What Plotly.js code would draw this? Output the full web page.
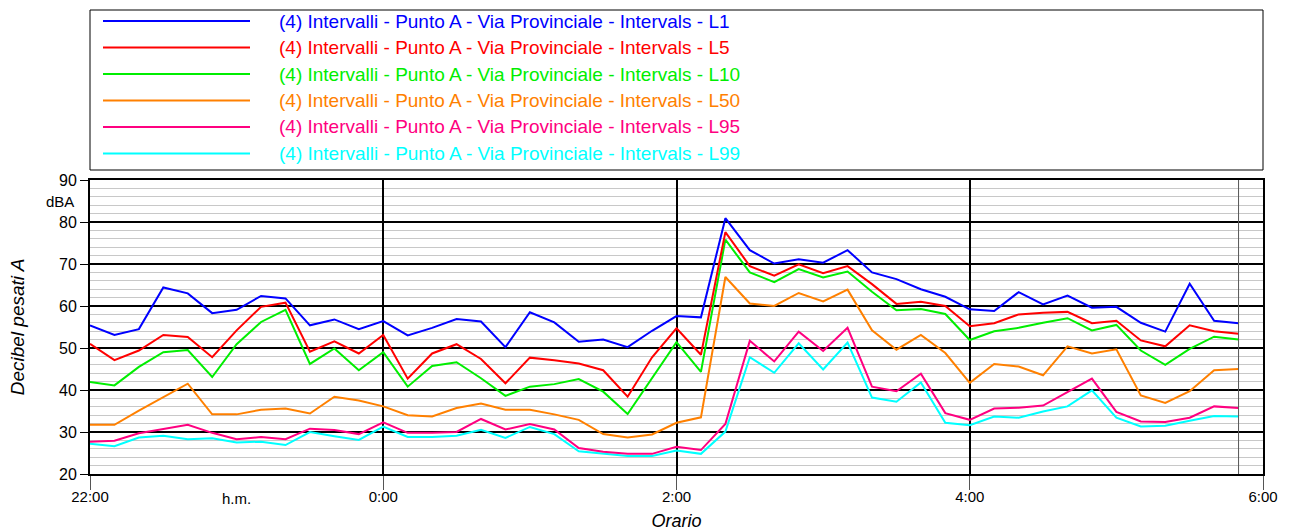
<!DOCTYPE html>
<html>
<head>
<meta charset="utf-8">
<script src="https://cdn.plot.ly/plotly-3.0.1.min.js"></script>
<style>html,body{margin:0;padding:0;background:#fff;}#chart{width:1295px;height:531px;}</style>
</head>
<body>
<div id="chart"></div>
<script>
// ---- data ----
const times = [
  "22:00","22:10","22:20","22:30","22:40","22:50","23:00","23:10","23:20","23:30","23:40","23:50",
  "0:00","0:10","0:20","0:30","0:40","0:50","1:00","1:10","1:20","1:30","1:40","1:50",
  "2:00","2:10","2:20","2:30","2:40","2:50","3:00","3:10","3:20","3:30","3:40","3:50",
  "4:00","4:10","4:20","4:30","4:40","4:50","5:00","5:10","5:20","5:30","5:40","5:50"
];
const seriesNames = [
  "(4) Intervalli - Punto A - Via Provinciale - Intervals - L1",
  "(4) Intervalli - Punto A - Via Provinciale - Intervals - L5",
  "(4) Intervalli - Punto A - Via Provinciale - Intervals - L10",
  "(4) Intervalli - Punto A - Via Provinciale - Intervals - L50",
  "(4) Intervalli - Punto A - Via Provinciale - Intervals - L95",
  "(4) Intervalli - Punto A - Via Provinciale - Intervals - L99"
];
const L1 = [55.4,53.1,54.5,64.4,63.0,58.3,59.1,62.4,61.8,55.4,56.8,54.5,
            56.4,53.0,54.8,56.9,56.3,50.2,58.5,56.1,51.5,52.0,50.2,54.1,
            57.6,57.3,80.9,73.3,70.1,71.1,70.3,73.3,68.0,66.4,64.0,62.2,
            59.2,58.8,63.3,60.4,62.5,59.6,59.8,56.0,53.9,65.3,56.5,55.9];
const L5 = [51.0,47.1,49.4,53.1,52.6,47.8,54.2,59.8,60.8,49.1,51.6,48.7,
            53.1,42.7,48.7,50.9,47.4,41.6,47.7,47.1,46.3,44.7,38.4,47.8,
            54.7,48.4,77.6,69.5,67.2,69.9,67.8,69.5,65.2,60.5,61.0,60.0,
            55.2,55.9,58.0,58.4,58.6,55.9,56.5,51.8,50.4,55.4,54.0,53.4];
const L10 = [41.9,41.1,45.5,49.0,49.5,43.1,50.9,56.2,59.1,46.2,49.9,44.7,
             49.0,40.8,45.7,46.6,42.8,38.6,40.8,41.4,42.6,39.6,34.3,42.8,
             51.4,44.3,75.8,68.0,65.7,68.8,66.8,68.2,63.4,59.0,59.3,58.1,
             51.9,54.0,54.8,56.0,57.1,54.2,55.5,49.4,46.0,49.8,52.7,52.0];
const L50 = [31.7,31.7,35.1,38.2,41.5,34.2,34.2,35.3,35.6,34.4,38.4,37.5,
             36.1,34.0,33.7,35.7,36.8,35.3,35.3,34.2,32.9,29.5,28.7,29.4,
             32.2,33.5,66.9,60.6,60.0,63.1,61.1,63.9,54.2,49.6,53.1,48.8,
             41.7,46.2,45.6,43.5,50.4,48.7,49.7,38.7,36.9,39.7,44.7,45.0];
const L95 = [27.7,27.9,29.7,30.7,31.7,29.8,28.3,28.8,28.3,30.8,30.5,29.5,
             32.3,29.8,29.8,30.0,33.1,30.6,31.9,30.6,26.2,25.3,24.8,24.8,
             26.5,25.7,31.9,51.7,46.8,53.9,49.3,54.8,40.8,39.7,43.9,34.5,
             32.9,35.6,35.8,36.3,39.5,42.7,34.8,32.5,32.4,33.4,36.1,35.7];
const L99 = [27.2,26.6,28.7,29.1,28.3,28.5,27.5,27.7,26.9,30.0,29.0,28.1,
             31.3,28.8,28.8,29.1,30.5,28.6,31.2,29.5,25.4,24.8,24.3,24.3,
             25.6,24.8,30.1,47.8,44.1,51.1,44.9,51.3,38.2,37.2,41.8,32.2,
             31.6,33.7,33.4,34.9,36.1,39.9,33.4,31.3,31.5,32.7,33.8,33.7];
const xTickLabels = ["22:00","0:00","2:00","4:00","6:00"];
const endMarkerTime = "5:50";

// ---- styling ----
const colors = ["#0000ff","#ff0000","#00ee00","#ff8000","#ff0080","#00ffff"];
const FONT = "Liberation Sans, Arial, sans-serif";

function toDate(t){
  const h = parseInt(t.split(":")[0],10);
  const mm = t.split(":")[1];
  const hh = (h < 10 ? "0" : "") + h;
  return (h >= 12 ? "2000-01-01 " : "2000-01-02 ") + hh + ":" + mm;
}
const xs = times.map(toDate);
const allSeries = [L1,L5,L10,L50,L95,L99];

const traces = [];
for (let i = allSeries.length - 1; i >= 0; i--) {
  traces.push({
    type: "scatter", mode: "lines", x: xs, y: allSeries[i],
    name: seriesNames[i], line: {color: colors[i], width: 2},
    showlegend: false, hoverinfo: "skip"
  });
}

// plot geometry (for legend placement in pixels)
const W = 1295, H = 531, mL = 90, mR = 32, mT = 180, mB = 57;
const plotH = H - mT - mB;
const plotW = W - mL - mR;
const py = p => (H - mB - p) / plotH;
const px = p => (p - mL) / plotW;

const shapes = [];
const annotations = [];
// legend box
shapes.push({type:"rect", xref:"paper", yref:"paper", x0:0, x1:1, y0:py(170), y1:py(10),
  line:{color:"#000", width:1}, fillcolor:"rgba(0,0,0,0)", layer:"above"});
const rowY = [21, 47.5, 74, 100.5, 127, 153.5];
for (let i = 0; i < seriesNames.length; i++) {
  shapes.push({type:"line", xref:"paper", yref:"paper", x0:px(103), x1:px(250),
    y0:py(rowY[i]), y1:py(rowY[i]), line:{color:colors[i], width:2}});
  annotations.push({xref:"paper", yref:"paper", x:px(277), y:py(rowY[i]),
    xanchor:"left", yanchor:"middle", showarrow:false, text:seriesNames[i],
    font:{family:FONT, size:19, color:colors[i]}});
}
// end-of-data vertical marker
shapes.push({type:"line", xref:"x", yref:"paper", x0:toDate(endMarkerTime), x1:toDate(endMarkerTime),
  y0:0, y1:1, line:{color:"#555", width:1}});
// dBA unit label and h.m. label
annotations.push({xref:"paper", yref:"y", x:0, y:85, xanchor:"right", yanchor:"middle",
  xshift:-14, showarrow:false, text:"dBA", font:{family:FONT, size:15, color:"#000"}});
annotations.push({xref:"x", yref:"paper", x:toDate("23:00"), y:0, xanchor:"center", yanchor:"top",
  yshift:-14, showarrow:false, text:"h.m.", font:{family:FONT, size:15, color:"#000"}});

const tickvals = ["2000-01-01 22:00","2000-01-02 00:00","2000-01-02 02:00","2000-01-02 04:00","2000-01-02 06:00"];

const layout = {
  width: W, height: H,
  margin: {l: mL, r: mR, t: mT, b: mB, pad: 0},
  paper_bgcolor: "#fff", plot_bgcolor: "#fff",
  font: {family: FONT, size: 15, color: "#000"},
  showlegend: false,
  xaxis: {
    type: "date",
    range: ["2000-01-01 22:00", "2000-01-02 06:00"],
    tickmode: "array", tickvals: tickvals, ticktext: xTickLabels,
    ticks: "outside", ticklen: 14, tickwidth: 1, tickcolor: "#555",
    ticklabelstandoff: -6,
    showgrid: true, gridcolor: "#000", gridwidth: 2,
    showline: true, linecolor: "#000", linewidth: 2, mirror: true,
    zeroline: false,
    tickfont: {family: FONT, size: 15, color: "#000"},
    title: {text: "Orario", font: {family: FONT, size: 18, color: "#000", style: "italic"}, standoff: 11},
    fixedrange: true
  },
  yaxis: {
    range: [20, 90], dtick: 10, tick0: 20,
    ticks: "outside", ticklen: 8, tickwidth: 1, tickcolor: "#000",
    showgrid: true, gridcolor: "#000", gridwidth: 2,
    minor: {dtick: 2, showgrid: true, gridcolor: "#c8c8c8", gridwidth: 1, ticks: ""},
    showline: true, linecolor: "#000", linewidth: 2, mirror: true,
    zeroline: false,
    tickfont: {family: FONT, size: 16, color: "#000"},
    title: {text: "Decibel pesati A", font: {family: FONT, size: 19, color: "#000", style: "italic"}, standoff: 29},
    fixedrange: true
  },
  shapes: shapes,
  annotations: annotations
};

Plotly.newPlot("chart", traces, layout, {displayModeBar: false, staticPlot: true});
</script>
</body>
</html>
